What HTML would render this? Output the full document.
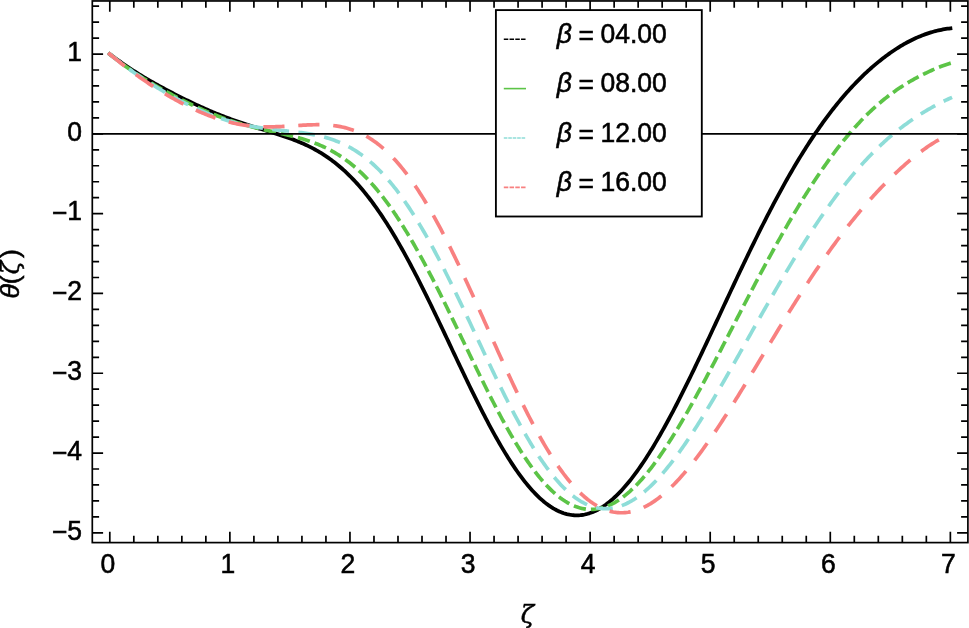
<!DOCTYPE html>
<html><head><meta charset="utf-8"><title>plot</title>
<style>html,body{margin:0;padding:0;background:#fff}svg{display:block}text{font-family:"Liberation Sans",sans-serif;fill:#000}</style></head><body>
<svg width="969" height="628" viewBox="0 0 969 628">
<rect width="969" height="628" fill="#fff"/>
<g fill="none" stroke-linejoin="round">
<path d="M109.60,54.04L111.10,55.15 112.60,56.25 114.10,57.34 115.60,58.43 117.09,59.52 118.59,60.59 120.09,61.65 121.59,62.71 123.09,63.75 124.59,64.78 126.09,65.81 127.59,66.82 129.08,67.82 130.58,68.81 132.08,69.79 133.58,70.76 135.08,71.72 136.58,72.67 138.08,73.61 139.58,74.53 141.07,75.45 142.57,76.36 144.07,77.26 145.57,78.16 147.07,79.04 148.57,79.92 150.07,80.78 151.57,81.64 153.06,82.50 154.56,83.34 156.06,84.18 157.56,85.02 159.06,85.84 160.56,86.67 162.06,87.48 163.56,88.29 165.05,89.10 166.55,89.90 168.05,90.69 169.55,91.48 171.05,92.26 172.55,93.04 174.05,93.82 175.55,94.59 177.04,95.35 178.54,96.11 180.04,96.87 181.54,97.62 183.04,98.36 184.54,99.11 186.04,99.84 187.54,100.57 189.03,101.30 190.53,102.02 192.03,102.74 193.53,103.45 195.03,104.15 196.53,104.85 198.03,105.55 199.53,106.23 201.02,106.92 202.52,107.59 204.02,108.26 205.52,108.93 207.02,109.59 208.52,110.24 210.02,110.88 211.52,111.52 213.01,112.15 214.51,112.78 216.01,113.39 217.51,114.00 219.01,114.61 220.51,115.21 222.01,115.80 223.51,116.38 225.00,116.96 226.50,117.53 228.00,118.09 229.50,118.64 231.00,119.19 232.50,119.74 234.00,120.27 235.50,120.80 236.99,121.32 238.49,121.84 239.99,122.35 241.49,122.86 242.99,123.36 244.49,123.85 245.99,124.34 247.49,124.83 248.98,125.31 250.48,125.78 251.98,126.26 253.48,126.73 254.98,127.19 256.48,127.66 257.98,128.12 259.48,128.58 260.97,129.04 262.47,129.49 263.97,129.95 265.47,130.41 266.97,130.86 268.47,131.32 269.97,131.78 271.47,132.25 272.96,132.71 274.46,133.18 275.96,133.65 277.46,134.13 278.96,134.61 280.46,135.10 281.96,135.59 283.46,136.10 284.95,136.61 286.45,137.12 287.95,137.65 289.45,138.19 290.95,138.74 292.45,139.29 293.95,139.86 295.45,140.45 296.94,141.04 298.44,141.66 299.94,142.28 301.44,142.92 302.94,143.58 304.44,144.25 305.94,144.94 307.44,145.65 308.93,146.38 310.43,147.13 311.93,147.90 313.43,148.69 314.93,149.50 316.43,150.33 317.93,151.19 319.43,152.07 320.92,152.97 322.42,153.90 323.92,154.86 325.42,155.84 326.92,156.85 328.42,157.88 329.92,158.94 331.42,160.04 332.91,161.16 334.41,162.31 335.91,163.49 337.41,164.70 338.91,165.94 340.41,167.21 341.91,168.51 343.41,169.85 344.90,171.22 346.40,172.62 347.90,174.05 349.40,175.52 350.90,177.03 352.40,178.56 353.90,180.13 355.40,181.74 356.89,183.38 358.39,185.05 359.89,186.76 361.39,188.51 362.89,190.29 364.39,192.11 365.89,193.96 367.39,195.85 368.88,197.77 370.38,199.73 371.88,201.72 373.38,203.75 374.88,205.82 376.38,207.92 377.88,210.05 379.38,212.22 380.87,214.43 382.37,216.66 383.87,218.94 385.37,221.24 386.87,223.58 388.37,225.96 389.87,228.36 391.37,230.80 392.86,233.27 394.36,235.78 395.86,238.31 397.36,240.87 398.86,243.47 400.36,246.09 401.86,248.75 403.36,251.43 404.85,254.14 406.35,256.87 407.85,259.64 409.35,262.43 410.85,265.24 412.35,268.08 413.85,270.95 415.35,273.83 416.84,276.74 418.34,279.67 419.84,282.62 421.34,285.59 422.84,288.58 424.34,291.59 425.84,294.61 427.34,297.66 428.83,300.71 430.33,303.79 431.83,306.87 433.33,309.97 434.83,313.08 436.33,316.20 437.83,319.33 439.33,322.47 440.82,325.61 442.32,328.77 443.82,331.93 445.32,335.09 446.82,338.26 448.32,341.43 449.82,344.60 451.32,347.77 452.81,350.94 454.31,354.11 455.81,357.28 457.31,360.44 458.81,363.60 460.31,366.75 461.81,369.89 463.31,373.03 464.80,376.16 466.30,379.27 467.80,382.38 469.30,385.47 470.80,388.55 472.30,391.61 473.80,394.66 475.30,397.69 476.79,400.70 478.29,403.69 479.79,406.67 481.29,409.62 482.79,412.55 484.29,415.45 485.79,418.34 487.29,421.19 488.78,424.02 490.28,426.82 491.78,429.60 493.28,432.34 494.78,435.05 496.28,437.74 497.78,440.39 499.28,443.00 500.77,445.58 502.27,448.13 503.77,450.64 505.27,453.12 506.77,455.55 508.27,457.95 509.77,460.31 511.27,462.63 512.76,464.90 514.26,467.14 515.76,469.33 517.26,471.48 518.76,473.58 520.26,475.64 521.76,477.65 523.26,479.62 524.75,481.54 526.25,483.41 527.75,485.23 529.25,487.01 530.75,488.73 532.25,490.41 533.75,492.03 535.25,493.60 536.74,495.12 538.24,496.59 539.74,498.01 541.24,499.37 542.74,500.68 544.24,501.94 545.74,503.14 547.24,504.28 548.73,505.38 550.23,506.41 551.73,507.39 553.23,508.32 554.73,509.18 556.23,509.99 557.73,510.75 559.23,511.45 560.72,512.09 562.22,512.67 563.72,513.19 565.22,513.66 566.72,514.07 568.22,514.43 569.72,514.72 571.22,514.96 572.71,515.14 574.21,515.26 575.71,515.32 577.21,515.33 578.71,515.28 580.21,515.17 581.71,515.00 583.21,514.78 584.70,514.50 586.20,514.16 587.70,513.77 589.20,513.32 590.70,512.81 592.20,512.25 593.70,511.63 595.20,510.95 596.69,510.22 598.19,509.44 599.69,508.60 601.19,507.70 602.69,506.75 604.19,505.75 605.69,504.70 607.19,503.59 608.68,502.43 610.18,501.22 611.68,499.95 613.18,498.64 614.68,497.27 616.18,495.86 617.68,494.39 619.18,492.88 620.67,491.32 622.17,489.71 623.67,488.05 625.17,486.34 626.67,484.59 628.17,482.80 629.67,480.96 631.17,479.07 632.66,477.14 634.16,475.17 635.66,473.15 637.16,471.10 638.66,469.00 640.16,466.86 641.66,464.68 643.16,462.47 644.65,460.21 646.15,457.92 647.65,455.59 649.15,453.22 650.65,450.82 652.15,448.38 653.65,445.91 655.15,443.40 656.64,440.86 658.14,438.29 659.64,435.69 661.14,433.06 662.64,430.40 664.14,427.71 665.64,424.99 667.14,422.25 668.63,419.48 670.13,416.68 671.63,413.86 673.13,411.01 674.63,408.14 676.13,405.25 677.63,402.33 679.13,399.40 680.62,396.44 682.12,393.46 683.62,390.47 685.12,387.46 686.62,384.43 688.12,381.38 689.62,378.32 691.12,375.24 692.61,372.15 694.11,369.05 695.61,365.93 697.11,362.80 698.61,359.66 700.11,356.51 701.61,353.35 703.11,350.18 704.60,347.01 706.10,343.82 707.60,340.63 709.10,337.44 710.60,334.24 712.10,331.03 713.60,327.82 715.10,324.61 716.59,321.40 718.09,318.18 719.59,314.97 721.09,311.75 722.59,308.54 724.09,305.32 725.59,302.11 727.09,298.90 728.58,295.69 730.08,292.49 731.58,289.29 733.08,286.10 734.58,282.92 736.08,279.74 737.58,276.56 739.08,273.40 740.57,270.24 742.07,267.09 743.57,263.95 745.07,260.82 746.57,257.71 748.07,254.60 749.57,251.50 751.07,248.42 752.56,245.35 754.06,242.29 755.56,239.25 757.06,236.22 758.56,233.21 760.06,230.21 761.56,227.22 763.06,224.26 764.55,221.31 766.05,218.37 767.55,215.45 769.05,212.56 770.55,209.67 772.05,206.81 773.55,203.97 775.05,201.14 776.54,198.34 778.04,195.55 779.54,192.79 781.04,190.05 782.54,187.32 784.04,184.62 785.54,181.94 787.04,179.28 788.53,176.64 790.03,174.03 791.53,171.44 793.03,168.87 794.53,166.32 796.03,163.80 797.53,161.30 799.03,158.82 800.52,156.37 802.02,153.94 803.52,151.53 805.02,149.15 806.52,146.79 808.02,144.45 809.52,142.15 811.02,139.86 812.51,137.60 814.01,135.36 815.51,133.15 817.01,130.96 818.51,128.80 820.01,126.66 821.51,124.55 823.01,122.46 824.50,120.39 826.00,118.35 827.50,116.34 829.00,114.35 830.50,112.38 832.00,110.44 833.50,108.52 835.00,106.63 836.49,104.76 837.99,102.91 839.49,101.09 840.99,99.29 842.49,97.52 843.99,95.77 845.49,94.05 846.99,92.34 848.48,90.67 849.98,89.01 851.48,87.38 852.98,85.77 854.48,84.19 855.98,82.62 857.48,81.08 858.98,79.57 860.47,78.07 861.97,76.60 863.47,75.15 864.97,73.72 866.47,72.32 867.97,70.93 869.47,69.57 870.97,68.23 872.46,66.92 873.96,65.62 875.46,64.35 876.96,63.09 878.46,61.86 879.96,60.65 881.46,59.47 882.96,58.30 884.45,57.15 885.95,56.03 887.45,54.93 888.95,53.85 890.45,52.79 891.95,51.75 893.45,50.73 894.95,49.73 896.44,48.76 897.94,47.81 899.44,46.87 900.94,45.96 902.44,45.07 903.94,44.21 905.44,43.36 906.94,42.54 908.43,41.74 909.93,40.96 911.43,40.20 912.93,39.47 914.43,38.75 915.93,38.06 917.43,37.39 918.93,36.75 920.42,36.13 921.92,35.53 923.42,34.95 924.92,34.39 926.42,33.86 927.92,33.35 929.42,32.87 930.92,32.40 932.41,31.96 933.91,31.54 935.41,31.15 936.91,30.77 938.41,30.42 939.91,30.09 941.41,29.78 942.91,29.49 944.40,29.22 945.90,28.96 947.40,28.73 948.90,28.52 950.40,28.32" stroke="#000" stroke-width="3.8" stroke-linecap="square"/>
<path d="M109.60,54.05L111.10,55.24 112.60,56.43 114.10,57.62 115.60,58.79 117.09,59.95 118.59,61.10 120.09,62.23 121.59,63.36 123.09,64.47 124.59,65.56 126.09,66.65 127.59,67.72 129.08,68.78 130.58,69.82 132.08,70.86 133.58,71.88 135.08,72.89 136.58,73.88 138.08,74.87 139.58,75.84 141.07,76.81 142.57,77.76 144.07,78.70 145.57,79.63 147.07,80.55 148.57,81.47 150.07,82.37 151.57,83.27 153.06,84.16 154.56,85.03 156.06,85.91 157.56,86.77 159.06,87.63 160.56,88.48 162.06,89.32 163.56,90.16 165.05,90.99 166.55,91.81 168.05,92.63 169.55,93.44 171.05,94.24 172.55,95.04 174.05,95.83 175.55,96.62 177.04,97.40 178.54,98.18 180.04,98.95 181.54,99.71 183.04,100.47 184.54,101.22 186.04,101.96 187.54,102.70 189.03,103.43 190.53,104.16 192.03,104.88 193.53,105.59 195.03,106.29 196.53,106.99 198.03,107.68 199.53,108.36 201.02,109.04 202.52,109.71 204.02,110.37 205.52,111.02 207.02,111.66 208.52,112.30 210.02,112.92 211.52,113.54 213.01,114.15 214.51,114.75 216.01,115.34 217.51,115.93 219.01,116.50 220.51,117.06 222.01,117.62 223.51,118.17 225.00,118.70 226.50,119.23 228.00,119.75 229.50,120.26 231.00,120.76 232.50,121.25 234.00,121.73 235.50,122.21 236.99,122.67 238.49,123.13 239.99,123.57 241.49,124.01 242.99,124.44 244.49,124.86 245.99,125.28 247.49,125.68 248.98,126.08 250.48,126.47 251.98,126.86 253.48,127.23 254.98,127.61 256.48,127.97 257.98,128.33 259.48,128.69 260.97,129.04 262.47,129.39 263.97,129.73 265.47,130.07 266.97,130.40 268.47,130.74 269.97,131.07 271.47,131.40 272.96,131.73 274.46,132.06 275.96,132.39 277.46,132.72 278.96,133.05 280.46,133.39 281.96,133.72 283.46,134.06 284.95,134.41 286.45,134.75 287.95,135.11 289.45,135.47 290.95,135.83 292.45,136.21 293.95,136.59 295.45,136.98 296.94,137.38 298.44,137.79 299.94,138.21 301.44,138.64 302.94,139.08 304.44,139.54 305.94,140.01 307.44,140.49 308.93,140.99 310.43,141.50 311.93,142.04 313.43,142.58 314.93,143.15 316.43,143.74 317.93,144.34 319.43,144.96 320.92,145.61 322.42,146.27 323.92,146.96 325.42,147.67 326.92,148.40 328.42,149.16 329.92,149.94 331.42,150.75 332.91,151.58 334.41,152.44 335.91,153.32 337.41,154.24 338.91,155.18 340.41,156.15 341.91,157.14 343.41,158.17 344.90,159.23 346.40,160.32 347.90,161.44 349.40,162.59 350.90,163.77 352.40,164.98 353.90,166.23 355.40,167.51 356.89,168.82 358.39,170.17 359.89,171.55 361.39,172.96 362.89,174.41 364.39,175.89 365.89,177.41 367.39,178.96 368.88,180.55 370.38,182.17 371.88,183.83 373.38,185.52 374.88,187.25 376.38,189.02 377.88,190.82 379.38,192.65 380.87,194.52 382.37,196.43 383.87,198.37 385.37,200.35 386.87,202.36 388.37,204.40 389.87,206.49 391.37,208.60 392.86,210.75 394.36,212.94 395.86,215.16 397.36,217.41 398.86,219.69 400.36,222.01 401.86,224.36 403.36,226.75 404.85,229.16 406.35,231.61 407.85,234.08 409.35,236.59 410.85,239.13 412.35,241.69 413.85,244.29 415.35,246.91 416.84,249.56 418.34,252.24 419.84,254.94 421.34,257.67 422.84,260.42 424.34,263.20 425.84,266.00 427.34,268.83 428.83,271.68 430.33,274.55 431.83,277.44 433.33,280.34 434.83,283.27 436.33,286.22 437.83,289.18 439.33,292.16 440.82,295.16 442.32,298.17 443.82,301.19 445.32,304.23 446.82,307.28 448.32,310.34 449.82,313.41 451.32,316.49 452.81,319.57 454.31,322.67 455.81,325.77 457.31,328.87 458.81,331.98 460.31,335.09 461.81,338.21 463.31,341.32 464.80,344.44 466.30,347.56 467.80,350.67 469.30,353.78 470.80,356.88 472.30,359.98 473.80,363.08 475.30,366.16 476.79,369.24 478.29,372.31 479.79,375.37 481.29,378.42 482.79,381.45 484.29,384.47 485.79,387.48 487.29,390.47 488.78,393.44 490.28,396.40 491.78,399.33 493.28,402.25 494.78,405.15 496.28,408.02 497.78,410.87 499.28,413.70 500.77,416.50 502.27,419.28 503.77,422.02 505.27,424.75 506.77,427.44 508.27,430.10 509.77,432.73 511.27,435.33 512.76,437.90 514.26,440.43 515.76,442.93 517.26,445.40 518.76,447.83 520.26,450.22 521.76,452.57 523.26,454.89 524.75,457.16 526.25,459.40 527.75,461.59 529.25,463.75 530.75,465.86 532.25,467.93 533.75,469.95 535.25,471.93 536.74,473.86 538.24,475.75 539.74,477.59 541.24,479.39 542.74,481.13 544.24,482.83 545.74,484.48 547.24,486.08 548.73,487.63 550.23,489.13 551.73,490.58 553.23,491.98 554.73,493.33 556.23,494.62 557.73,495.86 559.23,497.05 560.72,498.19 562.22,499.27 563.72,500.30 565.22,501.28 566.72,502.20 568.22,503.06 569.72,503.87 571.22,504.63 572.71,505.33 574.21,505.98 575.71,506.57 577.21,507.10 578.71,507.58 580.21,508.00 581.71,508.37 583.21,508.68 584.70,508.94 586.20,509.14 587.70,509.28 589.20,509.37 590.70,509.41 592.20,509.39 593.70,509.31 595.20,509.18 596.69,508.99 598.19,508.75 599.69,508.45 601.19,508.10 602.69,507.70 604.19,507.24 605.69,506.72 607.19,506.16 608.68,505.54 610.18,504.87 611.68,504.15 613.18,503.37 614.68,502.55 616.18,501.67 617.68,500.74 619.18,499.76 620.67,498.73 622.17,497.65 623.67,496.53 625.17,495.35 626.67,494.13 628.17,492.86 629.67,491.55 631.17,490.18 632.66,488.77 634.16,487.32 635.66,485.82 637.16,484.28 638.66,482.70 640.16,481.07 641.66,479.40 643.16,477.69 644.65,475.94 646.15,474.14 647.65,472.31 649.15,470.44 650.65,468.54 652.15,466.59 653.65,464.61 655.15,462.59 656.64,460.54 658.14,458.45 659.64,456.33 661.14,454.17 662.64,451.99 664.14,449.77 665.64,447.52 667.14,445.24 668.63,442.93 670.13,440.59 671.63,438.23 673.13,435.83 674.63,433.41 676.13,430.97 677.63,428.50 679.13,426.01 680.62,423.49 682.12,420.95 683.62,418.39 685.12,415.80 686.62,413.20 688.12,410.57 689.62,407.93 691.12,405.27 692.61,402.59 694.11,399.90 695.61,397.18 697.11,394.46 698.61,391.71 700.11,388.96 701.61,386.19 703.11,383.41 704.60,380.61 706.10,377.81 707.60,374.99 709.10,372.17 710.60,369.33 712.10,366.49 713.60,363.64 715.10,360.78 716.59,357.91 718.09,355.04 719.59,352.16 721.09,349.28 722.59,346.40 724.09,343.51 725.59,340.61 727.09,337.72 728.58,334.82 730.08,331.92 731.58,329.03 733.08,326.13 734.58,323.23 736.08,320.33 737.58,317.43 739.08,314.54 740.57,311.65 742.07,308.76 743.57,305.87 745.07,302.99 746.57,300.12 748.07,297.24 749.57,294.38 751.07,291.51 752.56,288.66 754.06,285.81 755.56,282.97 757.06,280.14 758.56,277.31 760.06,274.49 761.56,271.68 763.06,268.88 764.55,266.09 766.05,263.31 767.55,260.54 769.05,257.79 770.55,255.04 772.05,252.30 773.55,249.58 775.05,246.86 776.54,244.16 778.04,241.47 779.54,238.80 781.04,236.14 782.54,233.49 784.04,230.86 785.54,228.24 787.04,225.63 788.53,223.04 790.03,220.47 791.53,217.91 793.03,215.37 794.53,212.84 796.03,210.33 797.53,207.84 799.03,205.36 800.52,202.90 802.02,200.46 803.52,198.03 805.02,195.63 806.52,193.24 808.02,190.87 809.52,188.52 811.02,186.19 812.51,183.87 814.01,181.58 815.51,179.31 817.01,177.05 818.51,174.82 820.01,172.61 821.51,170.42 823.01,168.25 824.50,166.10 826.00,163.97 827.50,161.86 829.00,159.78 830.50,157.71 832.00,155.67 833.50,153.65 835.00,151.66 836.49,149.68 837.99,147.73 839.49,145.80 840.99,143.90 842.49,142.02 843.99,140.16 845.49,138.33 846.99,136.51 848.48,134.73 849.98,132.96 851.48,131.23 852.98,129.51 854.48,127.82 855.98,126.15 857.48,124.51 858.98,122.89 860.47,121.30 861.97,119.73 863.47,118.18 864.97,116.66 866.47,115.17 867.97,113.69 869.47,112.24 870.97,110.82 872.46,109.42 873.96,108.04 875.46,106.69 876.96,105.36 878.46,104.05 879.96,102.77 881.46,101.51 882.96,100.27 884.45,99.06 885.95,97.86 887.45,96.69 888.95,95.54 890.45,94.41 891.95,93.31 893.45,92.22 894.95,91.16 896.44,90.11 897.94,89.08 899.44,88.08 900.94,87.09 902.44,86.12 903.94,85.17 905.44,84.23 906.94,83.32 908.43,82.42 909.93,81.53 911.43,80.67 912.93,79.81 914.43,78.98 915.93,78.16 917.43,77.35 918.93,76.56 920.42,75.78 921.92,75.01 923.42,74.26 924.92,73.52 926.42,72.79 927.92,72.08 929.42,71.38 930.92,70.70 932.41,70.02 933.91,69.36 935.41,68.72 936.91,68.09 938.41,67.47 939.91,66.88 941.41,66.29 942.91,65.73 944.40,65.19 945.90,64.66 947.40,64.16 948.90,63.68 950.40,63.23" stroke="#5CC447" stroke-width="3.7" stroke-dasharray="8.752 8.752" stroke-dashoffset="0" stroke-linecap="square"/>
<path d="M109.60,54.05L111.10,55.26 112.60,56.46 114.10,57.65 115.60,58.83 117.09,60.00 118.59,61.15 120.09,62.30 121.59,63.44 123.09,64.57 124.59,65.69 126.09,66.79 127.59,67.89 129.08,68.98 130.58,70.05 132.08,71.12 133.58,72.18 135.08,73.22 136.58,74.26 138.08,75.29 139.58,76.30 141.07,77.31 142.57,78.31 144.07,79.30 145.57,80.28 147.07,81.25 148.57,82.22 150.07,83.17 151.57,84.12 153.06,85.06 154.56,85.99 156.06,86.91 157.56,87.82 159.06,88.72 160.56,89.62 162.06,90.51 163.56,91.39 165.05,92.26 166.55,93.12 168.05,93.98 169.55,94.83 171.05,95.67 172.55,96.50 174.05,97.32 175.55,98.14 177.04,98.94 178.54,99.74 180.04,100.53 181.54,101.31 183.04,102.09 184.54,102.85 186.04,103.60 187.54,104.35 189.03,105.09 190.53,105.81 192.03,106.53 193.53,107.24 195.03,107.94 196.53,108.63 198.03,109.31 199.53,109.98 201.02,110.63 202.52,111.28 204.02,111.92 205.52,112.55 207.02,113.17 208.52,113.77 210.02,114.37 211.52,114.95 213.01,115.52 214.51,116.09 216.01,116.64 217.51,117.18 219.01,117.70 220.51,118.22 222.01,118.72 223.51,119.22 225.00,119.70 226.50,120.17 228.00,120.62 229.50,121.07 231.00,121.50 232.50,121.93 234.00,122.34 235.50,122.74 236.99,123.13 238.49,123.50 239.99,123.87 241.49,124.22 242.99,124.56 244.49,124.90 245.99,125.22 247.49,125.53 248.98,125.83 250.48,126.12 251.98,126.40 253.48,126.67 254.98,126.93 256.48,127.19 257.98,127.43 259.48,127.67 260.97,127.89 262.47,128.11 263.97,128.33 265.47,128.53 266.97,128.73 268.47,128.93 269.97,129.11 271.47,129.30 272.96,129.47 274.46,129.65 275.96,129.82 277.46,129.98 278.96,130.15 280.46,130.31 281.96,130.47 283.46,130.63 284.95,130.79 286.45,130.95 287.95,131.11 289.45,131.27 290.95,131.44 292.45,131.60 293.95,131.77 295.45,131.95 296.94,132.13 298.44,132.31 299.94,132.51 301.44,132.70 302.94,132.91 304.44,133.13 305.94,133.35 307.44,133.58 308.93,133.83 310.43,134.08 311.93,134.35 313.43,134.63 314.93,134.93 316.43,135.24 317.93,135.56 319.43,135.90 320.92,136.26 322.42,136.63 323.92,137.02 325.42,137.43 326.92,137.86 328.42,138.31 329.92,138.79 331.42,139.28 332.91,139.80 334.41,140.33 335.91,140.90 337.41,141.48 338.91,142.10 340.41,142.74 341.91,143.40 343.41,144.09 344.90,144.81 346.40,145.56 347.90,146.34 349.40,147.15 350.90,147.98 352.40,148.85 353.90,149.75 355.40,150.68 356.89,151.65 358.39,152.64 359.89,153.67 361.39,154.73 362.89,155.83 364.39,156.96 365.89,158.13 367.39,159.33 368.88,160.57 370.38,161.85 371.88,163.16 373.38,164.50 374.88,165.89 376.38,167.31 377.88,168.77 379.38,170.26 380.87,171.80 382.37,173.37 383.87,174.98 385.37,176.62 386.87,178.31 388.37,180.03 389.87,181.80 391.37,183.60 392.86,185.44 394.36,187.31 395.86,189.23 397.36,191.18 398.86,193.17 400.36,195.20 401.86,197.27 403.36,199.37 404.85,201.51 406.35,203.69 407.85,205.90 409.35,208.15 410.85,210.43 412.35,212.75 413.85,215.11 415.35,217.50 416.84,219.93 418.34,222.38 419.84,224.88 421.34,227.40 422.84,229.96 424.34,232.55 425.84,235.16 427.34,237.81 428.83,240.49 430.33,243.20 431.83,245.94 433.33,248.71 434.83,251.50 436.33,254.32 437.83,257.16 439.33,260.03 440.82,262.93 442.32,265.84 443.82,268.78 445.32,271.74 446.82,274.72 448.32,277.73 449.82,280.75 451.32,283.78 452.81,286.84 454.31,289.91 455.81,293.00 457.31,296.10 458.81,299.21 460.31,302.34 461.81,305.48 463.31,308.62 464.80,311.78 466.30,314.95 467.80,318.12 469.30,321.30 470.80,324.48 472.30,327.67 473.80,330.86 475.30,334.05 476.79,337.24 478.29,340.43 479.79,343.62 481.29,346.81 482.79,350.00 484.29,353.18 485.79,356.35 487.29,359.51 488.78,362.67 490.28,365.82 491.78,368.96 493.28,372.09 494.78,375.20 496.28,378.30 497.78,381.39 499.28,384.46 500.77,387.51 502.27,390.55 503.77,393.56 505.27,396.56 506.77,399.53 508.27,402.49 509.77,405.42 511.27,408.32 512.76,411.20 514.26,414.05 515.76,416.88 517.26,419.68 518.76,422.45 520.26,425.19 521.76,427.89 523.26,430.57 524.75,433.21 526.25,435.82 527.75,438.39 529.25,440.93 530.75,443.43 532.25,445.90 533.75,448.32 535.25,450.71 536.74,453.05 538.24,455.36 539.74,457.63 541.24,459.85 542.74,462.03 544.24,464.17 545.74,466.26 547.24,468.31 548.73,470.31 550.23,472.27 551.73,474.18 553.23,476.04 554.73,477.85 556.23,479.62 557.73,481.34 559.23,483.01 560.72,484.63 562.22,486.20 563.72,487.71 565.22,489.18 566.72,490.60 568.22,491.96 569.72,493.27 571.22,494.53 572.71,495.74 574.21,496.89 575.71,498.00 577.21,499.04 578.71,500.04 580.21,500.98 581.71,501.87 583.21,502.70 584.70,503.48 586.20,504.20 587.70,504.87 589.20,505.49 590.70,506.05 592.20,506.55 593.70,507.01 595.20,507.41 596.69,507.75 598.19,508.04 599.69,508.28 601.19,508.46 602.69,508.59 604.19,508.66 605.69,508.68 607.19,508.65 608.68,508.56 610.18,508.43 611.68,508.24 613.18,507.99 614.68,507.70 616.18,507.35 617.68,506.96 619.18,506.51 620.67,506.01 622.17,505.46 623.67,504.86 625.17,504.21 626.67,503.52 628.17,502.77 629.67,501.98 631.17,501.13 632.66,500.24 634.16,499.31 635.66,498.33 637.16,497.30 638.66,496.23 640.16,495.11 641.66,493.95 643.16,492.74 644.65,491.50 646.15,490.21 647.65,488.87 649.15,487.50 650.65,486.09 652.15,484.63 653.65,483.14 655.15,481.61 656.64,480.04 658.14,478.43 659.64,476.79 661.14,475.10 662.64,473.39 664.14,471.64 665.64,469.85 667.14,468.03 668.63,466.18 670.13,464.30 671.63,462.38 673.13,460.44 674.63,458.46 676.13,456.45 677.63,454.42 679.13,452.36 680.62,450.27 682.12,448.15 683.62,446.00 685.12,443.84 686.62,441.64 688.12,439.42 689.62,437.18 691.12,434.92 692.61,432.63 694.11,430.33 695.61,428.00 697.11,425.65 698.61,423.28 700.11,420.90 701.61,418.50 703.11,416.07 704.60,413.64 706.10,411.18 707.60,408.71 709.10,406.23 710.60,403.73 712.10,401.22 713.60,398.69 715.10,396.16 716.59,393.61 718.09,391.05 719.59,388.48 721.09,385.90 722.59,383.31 724.09,380.71 725.59,378.10 727.09,375.49 728.58,372.87 730.08,370.24 731.58,367.61 733.08,364.97 734.58,362.33 736.08,359.68 737.58,357.03 739.08,354.38 740.57,351.72 742.07,349.06 743.57,346.40 745.07,343.74 746.57,341.08 748.07,338.41 749.57,335.75 751.07,333.09 752.56,330.43 754.06,327.77 755.56,325.12 757.06,322.46 758.56,319.81 760.06,317.17 761.56,314.52 763.06,311.89 764.55,309.25 766.05,306.62 767.55,304.00 769.05,301.38 770.55,298.77 772.05,296.17 773.55,293.58 775.05,290.99 776.54,288.41 778.04,285.83 779.54,283.27 781.04,280.72 782.54,278.17 784.04,275.64 785.54,273.11 787.04,270.60 788.53,268.09 790.03,265.60 791.53,263.12 793.03,260.65 794.53,258.19 796.03,255.75 797.53,253.32 799.03,250.90 800.52,248.49 802.02,246.10 803.52,243.72 805.02,241.36 806.52,239.01 808.02,236.68 809.52,234.36 811.02,232.05 812.51,229.76 814.01,227.49 815.51,225.23 817.01,222.99 818.51,220.77 820.01,218.56 821.51,216.37 823.01,214.20 824.50,212.04 826.00,209.90 827.50,207.78 829.00,205.68 830.50,203.59 832.00,201.53 833.50,199.48 835.00,197.45 836.49,195.44 837.99,193.45 839.49,191.48 840.99,189.53 842.49,187.59 843.99,185.68 845.49,183.79 846.99,181.91 848.48,180.06 849.98,178.22 851.48,176.41 852.98,174.62 854.48,172.84 855.98,171.09 857.48,169.36 858.98,167.65 860.47,165.95 861.97,164.28 863.47,162.63 864.97,161.00 866.47,159.39 867.97,157.80 869.47,156.23 870.97,154.68 872.46,153.16 873.96,151.65 875.46,150.16 876.96,148.69 878.46,147.25 879.96,145.82 881.46,144.41 882.96,143.02 884.45,141.66 885.95,140.31 887.45,138.98 888.95,137.67 890.45,136.38 891.95,135.11 893.45,133.85 894.95,132.62 896.44,131.40 897.94,130.20 899.44,129.02 900.94,127.86 902.44,126.72 903.94,125.59 905.44,124.48 906.94,123.39 908.43,122.31 909.93,121.25 911.43,120.20 912.93,119.17 914.43,118.16 915.93,117.16 917.43,116.18 918.93,115.21 920.42,114.26 921.92,113.32 923.42,112.40 924.92,111.49 926.42,110.60 927.92,109.71 929.42,108.85 930.92,107.99 932.41,107.15 933.91,106.33 935.41,105.51 936.91,104.71 938.41,103.92 939.91,103.15 941.41,102.39 942.91,101.64 944.40,100.91 945.90,100.19 947.40,99.49 948.90,98.79 950.40,98.12" stroke="#8EDDD8" stroke-width="3.7" stroke-dasharray="13.12 13.12" stroke-dashoffset="0" stroke-linecap="square"/>
<path d="M109.60,54.04L111.10,55.26 112.60,56.48 114.10,57.70 115.60,58.91 117.09,60.11 118.59,61.31 120.09,62.50 121.59,63.69 123.09,64.86 124.59,66.03 126.09,67.19 127.59,68.33 129.08,69.47 130.58,70.60 132.08,71.72 133.58,72.83 135.08,73.93 136.58,75.01 138.08,76.09 139.58,77.16 141.07,78.22 142.57,79.26 144.07,80.30 145.57,81.33 147.07,82.34 148.57,83.35 150.07,84.35 151.57,85.33 153.06,86.31 154.56,87.28 156.06,88.23 157.56,89.18 159.06,90.12 160.56,91.05 162.06,91.97 163.56,92.88 165.05,93.78 166.55,94.67 168.05,95.55 169.55,96.42 171.05,97.28 172.55,98.14 174.05,98.98 175.55,99.81 177.04,100.64 178.54,101.45 180.04,102.25 181.54,103.05 183.04,103.83 184.54,104.60 186.04,105.37 187.54,106.12 189.03,106.86 190.53,107.59 192.03,108.31 193.53,109.02 195.03,109.72 196.53,110.40 198.03,111.08 199.53,111.74 201.02,112.39 202.52,113.02 204.02,113.65 205.52,114.26 207.02,114.86 208.52,115.44 210.02,116.01 211.52,116.57 213.01,117.12 214.51,117.65 216.01,118.16 217.51,118.66 219.01,119.15 220.51,119.63 222.01,120.08 223.51,120.53 225.00,120.95 226.50,121.37 228.00,121.76 229.50,122.15 231.00,122.51 232.50,122.86 234.00,123.20 235.50,123.52 236.99,123.83 238.49,124.11 239.99,124.39 241.49,124.65 242.99,124.89 244.49,125.12 245.99,125.33 247.49,125.53 248.98,125.71 250.48,125.88 251.98,126.03 253.48,126.17 254.98,126.29 256.48,126.40 257.98,126.50 259.48,126.58 260.97,126.65 262.47,126.71 263.97,126.75 265.47,126.79 266.97,126.81 268.47,126.82 269.97,126.82 271.47,126.81 272.96,126.78 274.46,126.75 275.96,126.71 277.46,126.67 278.96,126.61 280.46,126.55 281.96,126.48 283.46,126.41 284.95,126.33 286.45,126.24 287.95,126.15 289.45,126.06 290.95,125.97 292.45,125.87 293.95,125.77 295.45,125.68 296.94,125.58 298.44,125.48 299.94,125.39 301.44,125.30 302.94,125.21 304.44,125.13 305.94,125.05 307.44,124.97 308.93,124.91 310.43,124.85 311.93,124.80 313.43,124.76 314.93,124.73 316.43,124.72 317.93,124.71 319.43,124.72 320.92,124.74 322.42,124.77 323.92,124.82 325.42,124.89 326.92,124.97 328.42,125.08 329.92,125.20 331.42,125.34 332.91,125.51 334.41,125.69 335.91,125.90 337.41,126.13 338.91,126.38 340.41,126.66 341.91,126.97 343.41,127.30 344.90,127.66 346.40,128.05 347.90,128.47 349.40,128.91 350.90,129.39 352.40,129.90 353.90,130.44 355.40,131.01 356.89,131.62 358.39,132.26 359.89,132.94 361.39,133.65 362.89,134.39 364.39,135.18 365.89,136.00 367.39,136.85 368.88,137.75 370.38,138.68 371.88,139.66 373.38,140.67 374.88,141.72 376.38,142.81 377.88,143.95 379.38,145.12 380.87,146.34 382.37,147.60 383.87,148.90 385.37,150.24 386.87,151.62 388.37,153.05 389.87,154.52 391.37,156.03 392.86,157.58 394.36,159.18 395.86,160.82 397.36,162.51 398.86,164.24 400.36,166.01 401.86,167.82 403.36,169.68 404.85,171.58 406.35,173.52 407.85,175.50 409.35,177.53 410.85,179.60 412.35,181.71 413.85,183.87 415.35,186.06 416.84,188.29 418.34,190.57 419.84,192.89 421.34,195.24 422.84,197.63 424.34,200.07 425.84,202.54 427.34,205.05 428.83,207.60 430.33,210.18 431.83,212.80 433.33,215.45 434.83,218.14 436.33,220.86 437.83,223.62 439.33,226.41 440.82,229.23 442.32,232.08 443.82,234.97 445.32,237.88 446.82,240.82 448.32,243.79 449.82,246.78 451.32,249.80 452.81,252.85 454.31,255.92 455.81,259.02 457.31,262.13 458.81,265.27 460.31,268.43 461.81,271.61 463.31,274.81 464.80,278.02 466.30,281.25 467.80,284.49 469.30,287.75 470.80,291.03 472.30,294.31 473.80,297.61 475.30,300.91 476.79,304.23 478.29,307.55 479.79,310.88 481.29,314.21 482.79,317.55 484.29,320.89 485.79,324.24 487.29,327.58 488.78,330.92 490.28,334.27 491.78,337.61 493.28,340.94 494.78,344.28 496.28,347.60 497.78,350.92 499.28,354.23 500.77,357.53 502.27,360.82 503.77,364.10 505.27,367.37 506.77,370.62 508.27,373.86 509.77,377.08 511.27,380.28 512.76,383.47 514.26,386.63 515.76,389.78 517.26,392.90 518.76,396.00 520.26,399.08 521.76,402.14 523.26,405.16 524.75,408.17 526.25,411.14 527.75,414.09 529.25,417.00 530.75,419.89 532.25,422.74 533.75,425.56 535.25,428.35 536.74,431.11 538.24,433.83 539.74,436.51 541.24,439.16 542.74,441.77 544.24,444.34 545.74,446.87 547.24,449.37 548.73,451.82 550.23,454.23 551.73,456.60 553.23,458.93 554.73,461.21 556.23,463.45 557.73,465.65 559.23,467.80 560.72,469.90 562.22,471.96 563.72,473.98 565.22,475.94 566.72,477.86 568.22,479.73 569.72,481.55 571.22,483.32 572.71,485.04 574.21,486.72 575.71,488.34 577.21,489.91 578.71,491.43 580.21,492.90 581.71,494.32 583.21,495.69 584.70,497.00 586.20,498.26 587.70,499.48 589.20,500.63 590.70,501.74 592.20,502.79 593.70,503.79 595.20,504.74 596.69,505.63 598.19,506.48 599.69,507.26 601.19,508.00 602.69,508.68 604.19,509.31 605.69,509.89 607.19,510.41 608.68,510.88 610.18,511.30 611.68,511.67 613.18,511.98 614.68,512.24 616.18,512.45 617.68,512.61 619.18,512.71 620.67,512.77 622.17,512.77 623.67,512.72 625.17,512.63 626.67,512.48 628.17,512.28 629.67,512.03 631.17,511.73 632.66,511.39 634.16,511.00 635.66,510.55 637.16,510.06 638.66,509.53 640.16,508.94 641.66,508.31 643.16,507.63 644.65,506.91 646.15,506.14 647.65,505.33 649.15,504.48 650.65,503.58 652.15,502.63 653.65,501.65 655.15,500.62 656.64,499.55 658.14,498.44 659.64,497.29 661.14,496.10 662.64,494.87 664.14,493.60 665.64,492.29 667.14,490.95 668.63,489.57 670.13,488.15 671.63,486.70 673.13,485.21 674.63,483.68 676.13,482.13 677.63,480.54 679.13,478.91 680.62,477.26 682.12,475.57 683.62,473.85 685.12,472.10 686.62,470.32 688.12,468.51 689.62,466.68 691.12,464.82 692.61,462.92 694.11,461.01 695.61,459.06 697.11,457.09 698.61,455.10 700.11,453.08 701.61,451.04 703.11,448.98 704.60,446.90 706.10,444.79 707.60,442.66 709.10,440.51 710.60,438.35 712.10,436.16 713.60,433.95 715.10,431.73 716.59,429.49 718.09,427.24 719.59,424.97 721.09,422.68 722.59,420.38 724.09,418.06 725.59,415.73 727.09,413.39 728.58,411.03 730.08,408.67 731.58,406.29 733.08,403.90 734.58,401.51 736.08,399.10 737.58,396.68 739.08,394.26 740.57,391.83 742.07,389.39 743.57,386.94 745.07,384.49 746.57,382.03 748.07,379.57 749.57,377.10 751.07,374.63 752.56,372.16 754.06,369.68 755.56,367.20 757.06,364.72 758.56,362.24 760.06,359.75 761.56,357.27 763.06,354.78 764.55,352.30 766.05,349.82 767.55,347.34 769.05,344.86 770.55,342.38 772.05,339.90 773.55,337.43 775.05,334.97 776.54,332.50 778.04,330.04 779.54,327.59 781.04,325.14 782.54,322.70 784.04,320.26 785.54,317.83 787.04,315.41 788.53,312.99 790.03,310.58 791.53,308.18 793.03,305.79 794.53,303.40 796.03,301.03 797.53,298.66 799.03,296.30 800.52,293.96 802.02,291.62 803.52,289.29 805.02,286.98 806.52,284.67 808.02,282.38 809.52,280.10 811.02,277.83 812.51,275.57 814.01,273.33 815.51,271.09 817.01,268.87 818.51,266.67 820.01,264.47 821.51,262.29 823.01,260.13 824.50,257.97 826.00,255.83 827.50,253.71 829.00,251.60 830.50,249.50 832.00,247.42 833.50,245.35 835.00,243.30 836.49,241.26 837.99,239.24 839.49,237.23 840.99,235.24 842.49,233.26 843.99,231.30 845.49,229.35 846.99,227.42 848.48,225.50 849.98,223.60 851.48,221.72 852.98,219.85 854.48,217.99 855.98,216.15 857.48,214.33 858.98,212.52 860.47,210.73 861.97,208.96 863.47,207.20 864.97,205.45 866.47,203.72 867.97,202.01 869.47,200.31 870.97,198.63 872.46,196.96 873.96,195.31 875.46,193.68 876.96,192.06 878.46,190.45 879.96,188.86 881.46,187.29 882.96,185.73 884.45,184.19 885.95,182.66 887.45,181.15 888.95,179.65 890.45,178.17 891.95,176.71 893.45,175.26 894.95,173.82 896.44,172.40 897.94,171.00 899.44,169.61 900.94,168.24 902.44,166.89 903.94,165.55 905.44,164.23 906.94,162.92 908.43,161.63 909.93,160.36 911.43,159.11 912.93,157.87 914.43,156.65 915.93,155.46 917.43,154.28 918.93,153.11 920.42,151.97 921.92,150.85 923.42,149.75 924.92,148.68 926.42,147.62 927.92,146.59 929.42,145.58 930.92,144.59 932.41,143.63 933.91,142.70 935.41,141.79 936.91,140.91 938.41,140.06 939.91,139.24 941.41,138.45 942.91,137.69 944.40,136.97 945.90,136.28 947.40,135.63 948.90,135.01 950.40,134.44" stroke="#F88080" stroke-width="3.7" stroke-dasharray="17.5 17.5" stroke-dashoffset="0" stroke-linecap="square"/>
</g>
<line x1="92.3" y1="133.85" x2="967.9" y2="133.85" stroke="#000" stroke-width="1.6"/>
<rect x="92.3" y="0.95" width="875.6" height="541.65" fill="none" stroke="#000" stroke-width="1.7"/>
<path d="M109.80,542.6v-10.8M109.80,0.95v10.8M133.82,542.6v-6.8M133.82,0.95v6.8M157.83,542.6v-6.8M157.83,0.95v6.8M181.85,542.6v-6.8M181.85,0.95v6.8M205.86,542.6v-6.8M205.86,0.95v6.8M229.88,542.6v-10.8M229.88,0.95v10.8M253.90,542.6v-6.8M253.90,0.95v6.8M277.91,542.6v-6.8M277.91,0.95v6.8M301.93,542.6v-6.8M301.93,0.95v6.8M325.94,542.6v-6.8M325.94,0.95v6.8M349.96,542.6v-10.8M349.96,0.95v10.8M373.98,542.6v-6.8M373.98,0.95v6.8M397.99,542.6v-6.8M397.99,0.95v6.8M422.01,542.6v-6.8M422.01,0.95v6.8M446.02,542.6v-6.8M446.02,0.95v6.8M470.04,542.6v-10.8M470.04,0.95v10.8M494.06,542.6v-6.8M494.06,0.95v6.8M518.07,542.6v-6.8M518.07,0.95v6.8M542.09,542.6v-6.8M542.09,0.95v6.8M566.10,542.6v-6.8M566.10,0.95v6.8M590.12,542.6v-10.8M590.12,0.95v10.8M614.14,542.6v-6.8M614.14,0.95v6.8M638.15,542.6v-6.8M638.15,0.95v6.8M662.17,542.6v-6.8M662.17,0.95v6.8M686.18,542.6v-6.8M686.18,0.95v6.8M710.20,542.6v-10.8M710.20,0.95v10.8M734.22,542.6v-6.8M734.22,0.95v6.8M758.23,542.6v-6.8M758.23,0.95v6.8M782.25,542.6v-6.8M782.25,0.95v6.8M806.26,542.6v-6.8M806.26,0.95v6.8M830.28,542.6v-10.8M830.28,0.95v10.8M854.30,542.6v-6.8M854.30,0.95v6.8M878.31,542.6v-6.8M878.31,0.95v6.8M902.33,542.6v-6.8M902.33,0.95v6.8M926.34,542.6v-6.8M926.34,0.95v6.8M950.36,542.6v-10.8M950.36,0.95v10.8M92.3,532.85h10.8M967.9,532.85h-10.8M92.3,516.89h6.8M967.9,516.89h-6.8M92.3,500.93h6.8M967.9,500.93h-6.8M92.3,484.97h6.8M967.9,484.97h-6.8M92.3,469.01h6.8M967.9,469.01h-6.8M92.3,453.05h10.8M967.9,453.05h-10.8M92.3,437.09h6.8M967.9,437.09h-6.8M92.3,421.13h6.8M967.9,421.13h-6.8M92.3,405.17h6.8M967.9,405.17h-6.8M92.3,389.21h6.8M967.9,389.21h-6.8M92.3,373.25h10.8M967.9,373.25h-10.8M92.3,357.29h6.8M967.9,357.29h-6.8M92.3,341.33h6.8M967.9,341.33h-6.8M92.3,325.37h6.8M967.9,325.37h-6.8M92.3,309.41h6.8M967.9,309.41h-6.8M92.3,293.45h10.8M967.9,293.45h-10.8M92.3,277.49h6.8M967.9,277.49h-6.8M92.3,261.53h6.8M967.9,261.53h-6.8M92.3,245.57h6.8M967.9,245.57h-6.8M92.3,229.61h6.8M967.9,229.61h-6.8M92.3,213.65h10.8M967.9,213.65h-10.8M92.3,197.69h6.8M967.9,197.69h-6.8M92.3,181.73h6.8M967.9,181.73h-6.8M92.3,165.77h6.8M967.9,165.77h-6.8M92.3,149.81h6.8M967.9,149.81h-6.8M92.3,133.85h10.8M967.9,133.85h-10.8M92.3,117.89h6.8M967.9,117.89h-6.8M92.3,101.93h6.8M967.9,101.93h-6.8M92.3,85.97h6.8M967.9,85.97h-6.8M92.3,70.01h6.8M967.9,70.01h-6.8M92.3,54.05h10.8M967.9,54.05h-10.8M92.3,38.09h6.8M967.9,38.09h-6.8M92.3,22.13h6.8M967.9,22.13h-6.8M92.3,6.17h6.8M967.9,6.17h-6.8" stroke="#000" stroke-width="1.7" fill="none"/>
<g stroke="#000" stroke-width="0.55">
<text transform="translate(107.80,572.50) scale(1,1.04)" font-size="26.5" text-anchor="middle">0</text>
<text transform="translate(227.88,572.50) scale(1,1.04)" font-size="26.5" text-anchor="middle">1</text>
<text transform="translate(347.96,572.50) scale(1,1.04)" font-size="26.5" text-anchor="middle">2</text>
<text transform="translate(468.04,572.50) scale(1,1.04)" font-size="26.5" text-anchor="middle">3</text>
<text transform="translate(588.12,572.50) scale(1,1.04)" font-size="26.5" text-anchor="middle">4</text>
<text transform="translate(708.20,572.50) scale(1,1.04)" font-size="26.5" text-anchor="middle">5</text>
<text transform="translate(828.28,572.50) scale(1,1.04)" font-size="26.5" text-anchor="middle">6</text>
<text transform="translate(948.36,572.50) scale(1,1.04)" font-size="26.5" text-anchor="middle">7</text>
<text transform="translate(82.00,539.65) scale(1,1.04)" font-size="26.5" text-anchor="end"><tspan dy="1.7">−</tspan><tspan dy="-1.7">5</tspan></text>
<text transform="translate(82.00,459.85) scale(1,1.04)" font-size="26.5" text-anchor="end"><tspan dy="1.7">−</tspan><tspan dy="-1.7">4</tspan></text>
<text transform="translate(82.00,380.05) scale(1,1.04)" font-size="26.5" text-anchor="end"><tspan dy="1.7">−</tspan><tspan dy="-1.7">3</tspan></text>
<text transform="translate(82.00,300.25) scale(1,1.04)" font-size="26.5" text-anchor="end"><tspan dy="1.7">−</tspan><tspan dy="-1.7">2</tspan></text>
<text transform="translate(82.00,220.45) scale(1,1.04)" font-size="26.5" text-anchor="end"><tspan dy="1.7">−</tspan><tspan dy="-1.7">1</tspan></text>
<text transform="translate(82.00,140.65) scale(1,1.04)" font-size="26.5" text-anchor="end">0</text>
<text transform="translate(82.00,60.85) scale(1,1.04)" font-size="26.5" text-anchor="end">1</text>
<text x="527.4" y="623" font-size="24.5" font-style="italic" text-anchor="middle" style="font-family:'DejaVu Serif',serif">ζ</text>
<text transform="translate(18.6,273.3) rotate(-90)" font-size="26.5" text-anchor="middle" letter-spacing="0.9"><tspan font-style="italic">θ</tspan><tspan dx="-1.0">(</tspan><tspan dx="0.3" font-style="italic" font-size="24.5" style="font-family:'DejaVu Serif',serif">ζ</tspan><tspan dx="2.1">)</tspan></text>
</g>
<rect x="495.9" y="10.1" width="205.9" height="206.4" fill="#fff" stroke="#000" stroke-width="1.85"/>
<g stroke="#000" stroke-width="0.55">
<text transform="translate(556.80,42.90) scale(1,1.04)" font-size="26.5" text-anchor="start" font-style="italic">β</text>
<text transform="translate(578.50,44.80) scale(1,1.04)" font-size="26.5" text-anchor="start">=</text>
<text transform="translate(600.50,42.90) scale(1,1.04)" font-size="26.5" text-anchor="start">04.00</text>
<text transform="translate(556.80,92.30) scale(1,1.04)" font-size="26.5" text-anchor="start" font-style="italic">β</text>
<text transform="translate(578.50,94.20) scale(1,1.04)" font-size="26.5" text-anchor="start">=</text>
<text transform="translate(600.50,92.30) scale(1,1.04)" font-size="26.5" text-anchor="start">08.00</text>
<text transform="translate(556.80,141.70) scale(1,1.04)" font-size="26.5" text-anchor="start" font-style="italic">β</text>
<text transform="translate(578.50,143.60) scale(1,1.04)" font-size="26.5" text-anchor="start">=</text>
<text transform="translate(600.50,141.70) scale(1,1.04)" font-size="26.5" text-anchor="start">12.00</text>
<text transform="translate(556.80,191.10) scale(1,1.04)" font-size="26.5" text-anchor="start" font-style="italic">β</text>
<text transform="translate(578.50,193.00) scale(1,1.04)" font-size="26.5" text-anchor="start">=</text>
<text transform="translate(600.50,191.10) scale(1,1.04)" font-size="26.5" text-anchor="start">16.00</text>
</g>
<line x1="503.8" y1="39.20" x2="526.0" y2="39.20" stroke="#000" stroke-width="1.6" stroke-dasharray="4.5 1.25"/>
<line x1="503.8" y1="88.60" x2="526.0" y2="88.60" stroke="#5CC447" stroke-width="1.6"/>
<line x1="503.8" y1="138.00" x2="526.0" y2="138.00" stroke="#8EDDD8" stroke-width="1.6" stroke-dasharray="3.6 0.85"/>
<line x1="503.8" y1="187.40" x2="526.0" y2="187.40" stroke="#F88080" stroke-width="1.6" stroke-dasharray="4.5 1.25"/>
</svg>
</body></html>
